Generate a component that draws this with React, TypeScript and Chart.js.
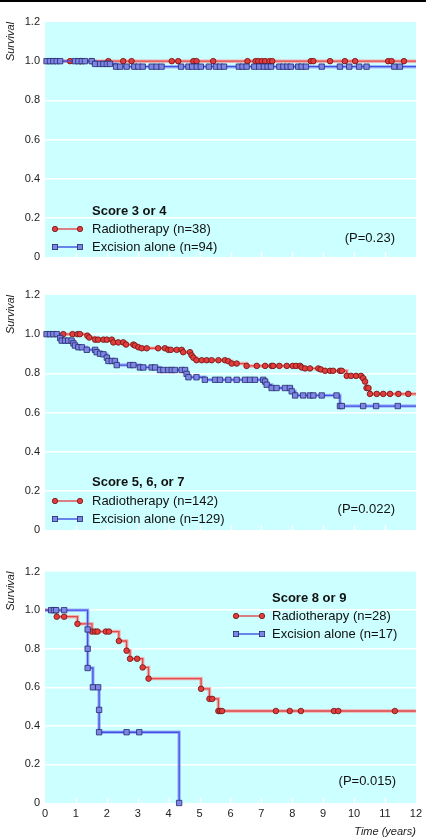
import React, { useEffect, useRef } from 'react';
import { Chart, registerables } from 'chart.js';

Chart.register(...registerables);

// ---------- axes ----------
const yTickValues = [0, 0.2, 0.4, 0.6, 0.8, 1.0, 1.2];
const yTickLabels = ['0', '0.2', '0.4', '0.6', '0.8', '1.0', '1.2'];
const xTickValues = [0, 1, 2, 3, 4, 5, 6, 7, 8, 9, 10, 11, 12];
const xTickLabels = ['0', '1', '2', '3', '4', '5', '6', '7', '8', '9', '10', '11', '12'];

// ---------- panel 1: Score 3 or 4 ----------
const p1RadioTime = [0.81, 1.15, 1.51, 2.05, 2.53, 2.8, 4.1, 4.31, 4.8, 4.9, 5.44, 6.55, 6.81, 6.9, 7.01, 7.12, 7.26, 7.35, 8.6, 8.68, 9.22, 9.7, 10.03, 11.1, 11.21, 11.61];
const p1RadioSurv = [1, 1, 1, 1, 1, 1, 1, 1, 1, 1, 1, 1, 1, 1, 1, 1, 1, 1, 1, 1, 1, 1, 1, 1, 1, 1];
const p1ExcTime = [0.05, 0.16, 0.27, 0.38, 0.49, 0.97, 1.08, 1.19, 1.29, 1.51, 1.62, 1.78, 1.89, 2.0, 2.1, 2.3, 2.43, 2.64, 2.89, 3.02, 3.16, 3.45, 3.61, 3.77, 4.4, 4.64, 4.76, 4.91, 5.04, 5.3, 5.53, 5.66, 5.79, 6.27, 6.39, 6.52, 6.77, 6.93, 7.08, 7.2, 7.31, 7.58, 7.71, 7.84, 7.95, 8.19, 8.3, 8.44, 8.95, 9.54, 9.84, 10.16, 10.4, 11.3, 11.48];
const p1ExcSurv = [1, 1, 1, 1, 1, 1, 1, 1, 1, 1, 0.986, 0.986, 0.986, 0.986, 0.986, 0.972, 0.972, 0.972, 0.972, 0.972, 0.972, 0.972, 0.972, 0.972, 0.972, 0.972, 0.972, 0.972, 0.972, 0.972, 0.972, 0.972, 0.972, 0.972, 0.972, 0.972, 0.972, 0.972, 0.972, 0.972, 0.972, 0.972, 0.972, 0.972, 0.972, 0.972, 0.972, 0.972, 0.972, 0.972, 0.972, 0.972, 0.972, 0.972, 0.972];

// ---------- panel 2: Score 5, 6, or 7 ----------
const p2RadioTime = [0.59, 0.89, 1.05, 1.13, 1.37, 1.43, 1.62, 1.72, 1.89, 2.0, 2.16, 2.21, 2.37, 2.53, 2.62, 2.86, 2.91, 3.02, 3.13, 3.29, 3.66, 3.88, 3.99, 4.07, 4.26, 4.42, 4.47, 4.69, 4.74, 4.8, 4.9, 5.07, 5.23, 5.39, 5.61, 5.82, 5.93, 6.04, 6.2, 6.52, 6.85, 7.12, 7.33, 7.38, 7.58, 7.82, 8.01, 8.12, 8.25, 8.3, 8.41, 8.57, 8.84, 8.92, 9.06, 9.22, 9.32, 9.54, 9.6, 9.76, 9.9, 10.06, 10.22, 10.29, 10.35, 10.4, 10.46, 10.51, 10.73, 10.94, 11.16, 11.43, 11.75];
const p2RadioSurv = [1, 1, 1, 1, 0.992, 0.983, 0.972, 0.972, 0.972, 0.972, 0.972, 0.958, 0.958, 0.958, 0.947, 0.947, 0.942, 0.933, 0.928, 0.928, 0.928, 0.928, 0.92, 0.92, 0.92, 0.92, 0.908, 0.908, 0.892, 0.88, 0.867, 0.867, 0.867, 0.867, 0.867, 0.867, 0.862, 0.85, 0.85, 0.838, 0.838, 0.838, 0.838, 0.838, 0.838, 0.838, 0.838, 0.838, 0.838, 0.83, 0.825, 0.825, 0.825, 0.82, 0.813, 0.813, 0.813, 0.813, 0.813, 0.787, 0.787, 0.787, 0.787, 0.775, 0.758, 0.725, 0.725, 0.695, 0.695, 0.695, 0.695, 0.695, 0.695];
const p2ExcTime = [0.05, 0.16, 0.27, 0.38, 0.49, 0.54, 0.65, 0.75, 0.86, 0.92, 0.97, 1.08, 1.19, 1.35, 1.62, 1.67, 1.78, 1.89, 2.0, 2.05, 2.16, 2.26, 2.32, 2.75, 2.86, 3.07, 3.18, 3.45, 3.56, 3.72, 3.83, 3.99, 4.1, 4.2, 4.42, 4.53, 4.58, 4.64, 4.9, 5.17, 5.5, 5.66, 5.93, 6.2, 6.47, 6.63, 6.79, 7.06, 7.12, 7.17, 7.33, 7.49, 7.76, 7.92, 7.98, 8.09, 8.35, 8.57, 8.68, 8.95, 9.43, 9.54, 9.6, 10.29, 10.71, 11.41];
const p2ExcSurv = [1, 1, 1, 1, 0.98, 0.967, 0.967, 0.967, 0.967, 0.953, 0.942, 0.933, 0.933, 0.92, 0.92, 0.908, 0.9, 0.897, 0.88, 0.863, 0.863, 0.863, 0.842, 0.842, 0.842, 0.83, 0.83, 0.83, 0.83, 0.817, 0.817, 0.817, 0.817, 0.817, 0.817, 0.817, 0.797, 0.78, 0.78, 0.767, 0.767, 0.767, 0.767, 0.767, 0.767, 0.767, 0.767, 0.767, 0.758, 0.742, 0.725, 0.725, 0.725, 0.725, 0.708, 0.687, 0.687, 0.687, 0.687, 0.687, 0.687, 0.633, 0.633, 0.633, 0.633, 0.633];

// ---------- panel 3: Score 8 or 9 ----------
const p3RadioTime = [0.38, 0.62, 1.05, 1.52, 1.62, 1.7, 1.97, 2.07, 2.39, 2.64, 2.75, 2.98, 3.16, 3.35, 5.05, 5.32, 5.41, 5.61, 5.67, 5.73, 7.47, 7.92, 8.28, 9.35, 9.49, 11.32];
const p3RadioSurv = [0.966, 0.966, 0.929, 0.889, 0.889, 0.889, 0.889, 0.889, 0.84, 0.79, 0.748, 0.748, 0.703, 0.645, 0.592, 0.54, 0.54, 0.477, 0.477, 0.477, 0.477, 0.477, 0.477, 0.477, 0.477, 0.477];
const p3ExcTime = [0.2, 0.29, 0.36, 0.62, 1.38, 1.38, 1.38, 1.55, 1.72, 1.75, 1.75, 2.64, 3.05, 4.34];
const p3ExcSurv = [1, 1, 1, 1, 0.9, 0.8, 0.7, 0.6, 0.6, 0.483, 0.367, 0.367, 0.367, 0];

// ---------- labels ----------
const seriesNames = ['Radiotherapy', 'Excision alone'];
const panelTitles = ['Score 3 or 4', 'Score 5, 6, or 7', 'Score 8 or 9'];
const panelN = [[38, 94], [142, 129], [28, 17]];
const panelP = ['(P=0.23)', '(P=0.022)', '(P=0.015)'];
const yTitle = 'Survival';
const xTitle = 'Time (years)';

// ---------- styles ----------
const RED_LINE = '#de4a4a';
const RED_HALO = 'rgba(250,150,150,0.75)';
const RED_FILL = '#e23c3c';
const RED_EDGE = '#6b1414';
const BLUE_LINE = '#3c50e6';
const BLUE_HALO = 'rgba(150,160,245,0.75)';
const BLUE_FILL = '#7e88e4';
const BLUE_EDGE = '#26286e';
const BG = '#ccffff';
const FONT = "'Liberation Sans', Arial, Helvetica, sans-serif";

type Pt = { x: number; y: number };

function kmPoints(times: number[], surv: number[], endX: number | null): Pt[] {
  const pts: Pt[] = [{ x: 0, y: 1 }];
  times.forEach((t, i) => pts.push({ x: t, y: surv[i] }));
  if (endX !== null) pts.push({ x: endX, y: surv[surv.length - 1] });
  return pts;
}

const bgPlugin = {
  id: 'bgFill',
  beforeDraw(chart: any) {
    const { ctx, chartArea } = chart;
    ctx.save();
    ctx.fillStyle = BG;
    ctx.fillRect(chartArea.left, chartArea.top, chartArea.right - chartArea.left, chartArea.bottom - chartArea.top);
    ctx.restore();
  },
  beforeDatasetsDraw(chart: any) {
    const { ctx, chartArea, scales } = chart;
    ctx.save();
    ctx.strokeStyle = '#ffffff';
    ctx.lineWidth = 1.5;
    xTickValues.forEach((v) => {
      if (v === 0 || v === 12) return;
      const px = Math.round(scales.x.getPixelForValue(v)) + 0.5;
      ctx.beginPath();
      ctx.moveTo(px, chartArea.bottom);
      ctx.lineTo(px, chartArea.bottom - 5);
      ctx.stroke();
    });
    ctx.restore();
  },
};

type PanelProps = {
  radioT: number[];
  radioS: number[];
  excT: number[];
  excS: number[];
  excEnd: boolean;
  showX: boolean;
  padTop: number;
  xHeight: number;
};

function Panel({ radioT, radioS, excT, excS, excEnd, showX, padTop, xHeight }: PanelProps) {
  const ref = useRef<HTMLCanvasElement | null>(null);
  useEffect(() => {
    if (!ref.current) return;
    const rPts = kmPoints(radioT, radioS, 12);
    const ePts = kmPoints(excT, excS, excEnd ? 12 : null);
    const rLast = rPts.length - 1;
    const eLast = ePts.length - 1;
    const radius = (last: number, hasEnd: boolean, r: number) => (c: any) =>
      c.dataIndex === 0 || (hasEnd && c.dataIndex === last) ? 0 : r;

    const chart = new Chart(ref.current, {
      type: 'line',
      data: {
        datasets: [
          { data: rPts, borderColor: RED_HALO, borderWidth: 3.5, pointRadius: 0, stepped: true, order: 4, clip: false } as any,
          { data: ePts, borderColor: BLUE_HALO, borderWidth: 3.5, pointRadius: 0, stepped: true, order: 3, clip: false } as any,
          {
            data: rPts, borderColor: RED_LINE, borderWidth: 1.3, stepped: true, order: 2, clip: false,
            pointStyle: 'circle', pointRadius: radius(rLast, true, 2.8), pointBackgroundColor: RED_FILL,
            pointBorderColor: RED_EDGE, pointBorderWidth: 0.8,
          } as any,
          {
            data: ePts, borderColor: BLUE_LINE, borderWidth: 1.3, stepped: true, order: 1, clip: false,
            pointStyle: 'rect', pointRadius: radius(eLast, excEnd, 3.8), pointBackgroundColor: BLUE_FILL,
            pointBorderColor: BLUE_EDGE, pointBorderWidth: 0.8,
          } as any,
        ],
      },
      options: {
        animation: false,
        responsive: false,
        maintainAspectRatio: false,
        events: [],
        layout: { padding: { top: padTop, right: 10, left: 0, bottom: 0 } },
        plugins: { legend: { display: false }, tooltip: { enabled: false } },
        scales: {
          x: {
            type: 'linear',
            min: 0,
            max: 12,
            afterBuildTicks: (s: any) => { s.ticks = xTickValues.map((v) => ({ value: v })); },
            ticks: {
              display: showX,
              callback: (_v: any, i: number) => xTickLabels[i],
              font: { family: FONT, size: 11 },
              color: '#222',
              padding: 4,
              maxRotation: 0,
              autoSkip: false,
            },
            grid: { display: false, drawTicks: false },
            border: { display: false },
            title: {
              display: showX,
              text: xTitle,
              align: 'end',
              font: { family: FONT, size: 11, style: 'italic' },
              color: '#222',
              padding: { top: 0, bottom: 1 },
            },
            afterFit: (s: any) => { s.height = xHeight; },
          } as any,
          y: {
            min: 0,
            max: 1.2,
            afterBuildTicks: (s: any) => { s.ticks = yTickValues.map((v) => ({ value: v })); },
            ticks: {
              callback: (_v: any, i: number) => yTickLabels[i],
              font: { family: FONT, size: 11 },
              color: '#222',
              padding: 5,
            },
            grid: {
              drawTicks: false,
              lineWidth: 1.6,
              color: (c: any) => (c.tick && (c.tick.value === 0 || c.tick.value === 1.2) ? 'rgba(0,0,0,0)' : '#ffffff'),
            },
            border: { display: false },
            title: {
              display: true,
              text: yTitle,
              align: 'end',
              font: { family: FONT, size: 11, style: 'italic' },
              color: '#222',
              padding: { top: 4, bottom: 0 },
            },
            afterFit: (s: any) => { s.width = 45; },
          } as any,
        },
      },
      plugins: [bgPlugin],
    });
    return () => chart.destroy();
  }, []);
  return <canvas ref={ref} width={426} height={280} style={{ display: 'block', width: 426, height: 280 }} />;
}

function LegendSample({ color, fill, edge, square, x1, x2, y }: { color: string; fill: string; edge: string; square: boolean; x1: number; x2: number; y: number }) {
  const w = x2 - x1 + 8;
  const mk = (cx: number) =>
    square ? (
      <rect x={cx - 2.6} y={5 - 2.6} width={5.2} height={5.2} fill={fill} stroke={edge} strokeWidth={0.8} />
    ) : (
      <circle cx={cx} cy={5} r={2.7} fill={fill} stroke={edge} strokeWidth={0.8} />
    );
  return (
    <svg width={w} height={10} style={{ position: 'absolute', left: x1 - 4, top: y - 5 }}>
      <line x1={4} y1={5} x2={w - 4} y2={5} stroke={color} strokeWidth={1.4} />
      {mk(4)}
      {mk(w - 4)}
    </svg>
  );
}

function textStyle(left: number, cy: number, bold = false): React.CSSProperties {
  return {
    position: 'absolute',
    left,
    top: cy - 8,
    height: 16,
    lineHeight: '16px',
    fontFamily: FONT,
    fontSize: 13,
    fontWeight: bold ? 'bold' : 'normal',
    color: '#111',
    whiteSpace: 'nowrap',
  };
}

function rightText(right: number, cy: number): React.CSSProperties {
  return {
    position: 'absolute',
    right: 426 - right,
    top: cy - 8,
    height: 16,
    lineHeight: '16px',
    fontFamily: FONT,
    fontSize: 13,
    color: '#111',
    whiteSpace: 'nowrap',
  };
}

type LegendLayout = { textX: number; symX1: number; symX2: number; head: number; r: number; e: number; pRight: number; pY: number };

const legendLayouts: LegendLayout[] = [
  { textX: 92, symX1: 55, symX2: 80, head: 211, r: 229, e: 247, pRight: 395, pY: 238 },
  { textX: 92, symX1: 55, symX2: 80, head: 482, r: 501, e: 519, pRight: 395, pY: 509 },
  { textX: 272, symX1: 236, symX2: 262, head: 598, r: 616, e: 634, pRight: 396, pY: 781 },
];

export default function App() {
  return (
    <div style={{ position: 'absolute', left: 0, top: 0, width: 426, height: 840, background: '#fff', overflow: 'hidden' }}>
      <div style={{ position: 'absolute', left: 0, top: 0, width: 426, height: 280 }}>
        <Panel radioT={p1RadioTime} radioS={p1RadioSurv} excT={p1ExcTime} excS={p1ExcSurv} excEnd={true} showX={false} padTop={22} xHeight={23} />
      </div>
      <div style={{ position: 'absolute', left: 0, top: 280, width: 426, height: 280 }}>
        <Panel radioT={p2RadioTime} radioS={p2RadioSurv} excT={p2ExcTime} excS={p2ExcSurv} excEnd={true} showX={false} padTop={15} xHeight={30} />
      </div>
      <div style={{ position: 'absolute', left: 0, top: 560, width: 426, height: 280 }}>
        <Panel radioT={p3RadioTime} radioS={p3RadioSurv} excT={p3ExcTime} excS={p3ExcSurv} excEnd={false} showX={true} padTop={10} xHeight={37} />
      </div>
      <div style={{ position: 'absolute', left: 0, top: 0, width: 426, height: 2, background: '#000' }} />
      {legendLayouts.map((L, i) => (
        <React.Fragment key={i}>
          <div style={textStyle(L.textX, L.head, true)}>{panelTitles[i]}</div>
          <LegendSample color={RED_LINE} fill={RED_FILL} edge={RED_EDGE} square={false} x1={L.symX1} x2={L.symX2} y={L.r} />
          <div style={textStyle(L.textX, L.r)}>{`${seriesNames[0]} (n=${panelN[i][0]})`}</div>
          <LegendSample color={BLUE_LINE} fill={BLUE_FILL} edge={BLUE_EDGE} square={true} x1={L.symX1} x2={L.symX2} y={L.e} />
          <div style={textStyle(L.textX, L.e)}>{`${seriesNames[1]} (n=${panelN[i][1]})`}</div>
          <div style={rightText(L.pRight, L.pY)}>{panelP[i]}</div>
        </React.Fragment>
      ))}
    </div>
  );
}
